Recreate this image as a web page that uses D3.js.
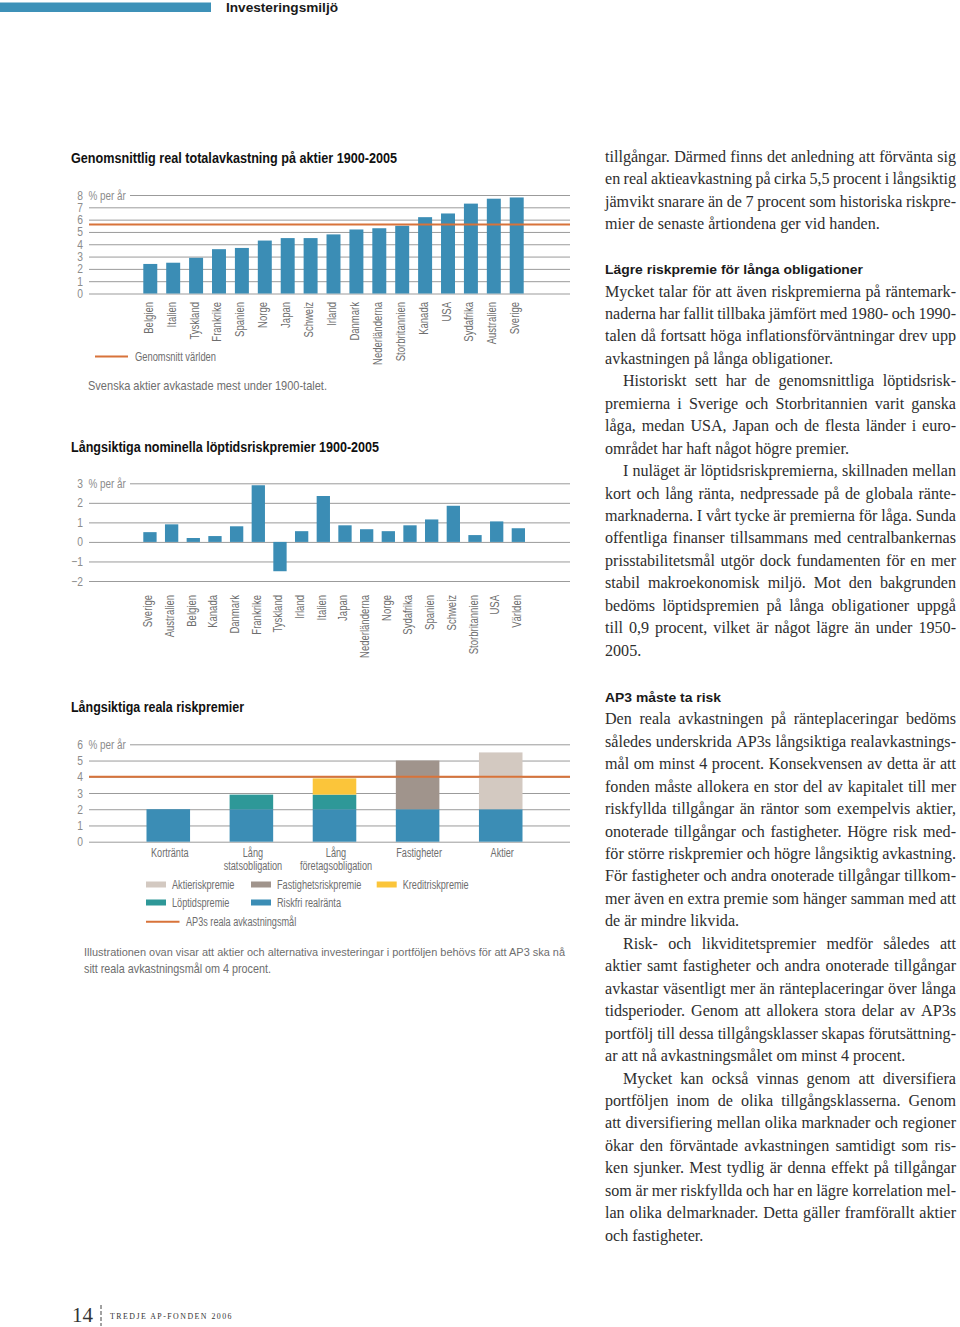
<!DOCTYPE html>
<html><head><meta charset="utf-8">
<script src="https://cdn.jsdelivr.net/npm/d3@7"></script>
<style>
body{margin:0;background:#fff;}
svg{display:block;}
</style></head><body>
<svg id="page" width="960" height="1327"></svg>
<script>
// ---------------- DATA ----------------
const countries1 = ["Belgien","Italien","Tyskland","Frankrike","Spanien","Norge","Japan","Schweiz","Irland","Danmark","Nederländerna","Storbritannien","Kanada","USA","Sydafrika","Australien","Sverige"];
const returns1 = [2.4,2.5,2.9,3.6,3.7,4.3,4.5,4.5,4.8,5.2,5.3,5.5,6.2,6.5,7.3,7.7,7.8];
const worldAverage1 = 5.6;
const ticks1 = [0,1,2,3,4,5,6,7,8];

const countries2 = ["Sverige","Australien","Belgien","Kanada","Danmark","Frankrike","Tyskland","Irland","Italien","Japan","Nederländerna","Norge","Sydafrika","Spanien","Schweiz","Storbritannien","USA","Världen"];
const premiums2 = [0.5,0.9,0.2,0.3,0.8,2.9,-1.5,0.55,2.35,0.85,0.65,0.55,0.85,1.15,1.85,0.35,1.05,0.7];
const ticks2 = [-2,-1,0,1,2,3];

const categories3 = ["Kortränta","Lång statsobligation","Lång företagsobligation","Fastigheter","Aktier"];
const categoryLabels3 = [["Kortränta"],["Lång","statsobligation"],["Lång","företagsobligation"],["Fastigheter"],["Aktier"]];
const riskfriRealranta = [2,2,2,2,2];
const loptidspremie = [0,0.9,0.9,0,0];
const kreditriskpremie = [0,0,1.0,0,0];
const fastighetsriskpremie = [0,0,0,3.0,0];
const aktieriskpremie = [0,0,0,0,3.5];
const seriesNames3 = ["Riskfri realränta","Löptidspremie","Kreditriskpremie","Fastighetsriskpremie","Aktieriskpremie"];
const legendRows3 = [["Aktieriskpremie","Fastighetsriskpremie","Kreditriskpremie"],["Löptidspremie","Riskfri realränta"]];
const target3 = 4;
const ticks3 = [0,1,2,3,4,5,6];

const textBlock1 = [
 ["tillgångar. Därmed finns det anledning att förvänta sig",1,0],
 ["en real aktieavkastning på cirka 5,5 procent i långsiktig",1,0],
 ["jämvikt snarare än de 7 procent som historiska riskpre-",1,0],
 ["mier de senaste årtiondena ger vid handen.",0,0]
];
const heading2 = "Lägre riskpremie för långa obligationer";
const textBlock2 = [
 ["Mycket talar för att även riskpremierna på räntemark-",1,0],
 ["naderna har fallit tillbaka jämfört med 1980- och 1990-",1,0],
 ["talen då fortsatt höga inflationsförväntningar drev upp",1,0],
 ["avkastningen på långa obligationer.",0,0],
 ["Historiskt sett har de genomsnittliga löptidsrisk-",1,1],
 ["premierna i Sverige och Storbritannien varit ganska",1,0],
 ["låga, medan USA, Japan och de flesta länder i euro-",1,0],
 ["området har haft något högre premier.",0,0],
 ["I nuläget är löptidsriskpremierna, skillnaden mellan",1,1],
 ["kort och lång ränta, nedpressade på de globala ränte-",1,0],
 ["marknaderna. I vårt tycke är premierna för låga. Sunda",1,0],
 ["offentliga finanser tillsammans med centralbankernas",1,0],
 ["prisstabilitetsmål utgör dock fundamenten för en mer",1,0],
 ["stabil makroekonomisk miljö. Mot den bakgrunden",1,0],
 ["bedöms löptidspremien på långa obligationer uppgå",1,0],
 ["till 0,9 procent, vilket är något lägre än under 1950-",1,0],
 ["2005.",0,0]
];
const heading3 = "AP3 måste ta risk";
const textBlock3 = [
 ["Den reala avkastningen på ränteplaceringar bedöms",1,0],
 ["således underskrida AP3s långsiktiga realavkastnings-",1,0],
 ["mål om minst 4 procent. Konsekvensen av detta är att",1,0],
 ["fonden måste allokera en stor del av kapitalet till mer",1,0],
 ["riskfyllda tillgångar än räntor som exempelvis aktier,",1,0],
 ["onoterade tillgångar och fastigheter. Högre risk med-",1,0],
 ["för större riskpremier och högre långsiktig avkastning.",1,0],
 ["För fastigheter och andra onoterade tillgångar tillkom-",1,0],
 ["mer även en extra premie som hänger samman med att",1,0],
 ["de är mindre likvida.",0,0],
 ["Risk- och likviditetspremier medför således att",1,1],
 ["aktier samt fastigheter och andra onoterade tillgångar",1,0],
 ["avkastar väsentligt mer än ränteplaceringar över långa",1,0],
 ["tidsperioder. Genom att allokera stora delar av AP3s",1,0],
 ["portfölj till dessa tillgångsklasser skapas förutsättning-",1,0],
 ["ar att nå avkastningsmålet om minst 4 procent.",0,0],
 ["Mycket kan också vinnas genom att diversifiera",1,1],
 ["portföljen inom de olika tillgångsklasserna. Genom",1,0],
 ["att diversifiering mellan olika marknader och regioner",1,0],
 ["ökar den förväntade avkastningen samtidigt som ris-",1,0],
 ["ken sjunker. Mest tydlig är denna effekt på tillgångar",1,0],
 ["som är mer riskfyllda och har en lägre korrelation mel-",1,0],
 ["lan olika delmarknader. Detta gäller framförallt aktier",1,0],
 ["och fastigheter.",0,0]
];

// ---------------- STYLE ----------------
const SANS_C = "'Liberation Sans Narrow','Arial Narrow','Liberation Sans',Arial,sans-serif";
const SANS = "'Liberation Sans',Arial,Helvetica,sans-serif";
const SERIF = "'Liberation Serif','Times New Roman',serif";
const BLUE = "#3b8db5", TEAL = "#2e9898", YELLOW = "#fbc53a", FGRAY = "#a0948c", LBEIGE = "#d3c9c1", ORANGE = "#d8733a";
const GRID = "#9b9b9b", LABEL = "#8c8c8c", TEXTG = "#6e6e6e";
const GX0 = 89, GX1 = 570;

const svg = d3.select("#page");

// calibration for condensed light text
const cal = svg.append("text").attr("font-family",SANS_C).attr("font-size",12).text("Fastigheter");
const K = 45.7 / cal.node().getComputedTextLength();
cal.remove();

function condense(sel, k){
  sel.each(function(){
    const L = this.getComputedTextLength();
    d3.select(this).attr("textLength", L*(k||K)).attr("lengthAdjust","spacingAndGlyphs");
  });
  return sel;
}
// fit to width; if natural width is much wider, reduce the font size so the natural box stays near the target
function fit(sel, w, maxRatio){
  const L = sel.node().getComputedTextLength();
  const r = maxRatio || 1.06;
  if(L > w*r){
    const fs = +sel.attr("font-size");
    sel.attr("font-size", fs * w * r / L);
  }
  return sel.attr("textLength", w).attr("lengthAdjust","spacingAndGlyphs");
}

// ---------------- HEADER ----------------
svg.append("rect").attr("x",0).attr("y",2.5).attr("width",211).attr("height",9.5).attr("fill","#3d91b8");
fit(svg.append("text").attr("x",226).attr("y",12).attr("font-family",SANS).attr("font-weight","bold")
  .attr("font-size",12.5).attr("fill","#1a1a1a").text("Investeringsmiljö"),112,1.3);

// ---------------- generic grid ----------------
function grid(g, y, ticks){
  const ax = d3.axisLeft(y).tickValues(ticks).tickSize(-(GX1-GX0)).tickPadding(6).tickFormat(d3.format("d"));
  const a = g.append("g").attr("transform",`translate(${GX0},0)`).call(ax);
  a.select(".domain").remove();
  a.selectAll(".tick line").attr("stroke",GRID).attr("stroke-width",1);
  a.selectAll(".tick text").attr("fill",LABEL).attr("font-family",SANS_C).attr("font-size",12.5);
  condense(a.selectAll(".tick text"), K*1.08);
  const top = d3.max(ticks);
  const tt = a.selectAll(".tick").filter(d=>d===top);
  tt.select("line").attr("x1", 130-GX0);
  condense(tt.append("text").attr("x",88.5-GX0).attr("dy","0.32em").attr("fill",LABEL)
    .attr("font-family",SANS_C).attr("font-size",12.5).attr("text-anchor","start").text("% per år"), K*1.04);
}
function title(x,y,str,w){
  fit(svg.append("text").attr("x",x).attr("y",y).attr("font-family",SANS_C).attr("font-weight","bold")
   .attr("font-size",14).attr("fill","#111").text(str), w, 1.3);
}

// ---------------- CHART 1 ----------------
title(71,162.5,"Genomsnittlig real totalavkastning på aktier 1900-2005",326);
{
  const g = svg.append("g");
  const x = d3.scaleBand().domain(countries1).range([143.3,523.7]).paddingInner(0.39).paddingOuter(0);
  const y = d3.scaleLinear().domain([0,8]).range([293.5,195]);
  grid(g,y,ticks1);
  g.selectAll("rect.bar").data(countries1).join("rect").attr("class","bar")
    .attr("x",d=>x(d)).attr("width",x.bandwidth())
    .attr("y",(d,i)=>y(returns1[i])).attr("height",(d,i)=>y(0)-y(returns1[i])).attr("fill",BLUE);
  g.append("line").attr("x1",GX0).attr("x2",GX1).attr("y1",y(worldAverage1)).attr("y2",y(worldAverage1))
    .attr("stroke",ORANGE).attr("stroke-width",2);
  condense(g.selectAll("text.xl").data(countries1).join("text").attr("class","xl")
    .attr("transform",d=>`translate(${x(d)+x.bandwidth()/2+2.5},${y(0)+8.5}) rotate(-90)`)
    .attr("text-anchor","end").attr("font-family",SANS_C).attr("font-size",12.5).attr("fill",TEXTG).text(d=>d));
  g.append("line").attr("x1",95).attr("x2",128).attr("y1",356.5).attr("y2",356.5).attr("stroke",ORANGE).attr("stroke-width",2);
  fit(g.append("text").attr("x",135).attr("y",360.5).attr("font-family",SANS_C).attr("font-size",12.5).attr("fill",TEXTG).text("Genomsnitt världen"),81,1.3);
  fit(g.append("text").attr("x",88).attr("y",389.5).attr("font-family",SANS_C).attr("font-size",13.5).attr("fill",TEXTG).text("Svenska aktier avkastade mest under 1900-talet."),239,1.3);
}

// ---------------- CHART 2 ----------------
title(71,451.5,"Långsiktiga nominella löptidsriskpremier 1900-2005",308);
{
  const g = svg.append("g");
  const x = d3.scaleBand().domain(countries2).range([143.3,525]).paddingInner(0.386).paddingOuter(0);
  const y = d3.scaleLinear().domain([-2,3]).range([581,483.3]);
  grid(g,y,ticks2);
  g.selectAll("rect.bar").data(countries2).join("rect").attr("class","bar")
    .attr("x",d=>x(d)).attr("width",x.bandwidth())
    .attr("y",(d,i)=>y(Math.max(0,premiums2[i]))).attr("height",(d,i)=>Math.abs(y(premiums2[i])-y(0))).attr("fill",BLUE);
  condense(g.selectAll("text.xl").data(countries2).join("text").attr("class","xl")
    .attr("transform",d=>`translate(${x(d)+x.bandwidth()/2+2.5},${y(-2)+14}) rotate(-90)`)
    .attr("text-anchor","end").attr("font-family",SANS_C).attr("font-size",12.5).attr("fill",TEXTG).text(d=>d));
}

// ---------------- CHART 3 ----------------
title(71,712,"Långsiktiga reala riskpremier",173);
{
  const g = svg.append("g");
  const x = d3.scaleBand().domain(categories3).range([146.5,522.5]).paddingInner(0.476).paddingOuter(0);
  const y = d3.scaleLinear().domain([0,6]).range([841.7,744.3]);
  grid(g,y,ticks3);
  const rows = categories3.map((c,i)=>({cat:c,
    "Riskfri realränta":riskfriRealranta[i],"Löptidspremie":loptidspremie[i],"Kreditriskpremie":kreditriskpremie[i],
    "Fastighetsriskpremie":fastighetsriskpremie[i],"Aktieriskpremie":aktieriskpremie[i]}));
  const color = d3.scaleOrdinal().domain(seriesNames3).range([BLUE,TEAL,YELLOW,FGRAY,LBEIGE]);
  const stack = d3.stack().keys(seriesNames3)(rows);
  g.selectAll("g.s").data(stack).join("g").attr("class","s").attr("fill",d=>color(d.key))
    .selectAll("rect").data(d=>d.filter(p=>p[1]-p[0]>0)).join("rect")
    .attr("x",d=>x(d.data.cat)).attr("width",x.bandwidth())
    .attr("y",d=>y(d[1])).attr("height",d=>y(d[0])-y(d[1]));
  g.append("line").attr("x1",GX0).attr("x2",GX1).attr("y1",y(target3)).attr("y2",y(target3))
    .attr("stroke",ORANGE).attr("stroke-width",2);
  categories3.forEach((c,i)=>{
    categoryLabels3[i].forEach((ln,j)=>{
      condense(g.append("text").attr("x",x(c)+x.bandwidth()/2+1.5).attr("y",857+j*12.5).attr("text-anchor","middle")
        .attr("font-family",SANS_C).attr("font-size",12).attr("fill",TEXTG).text(ln));
    });
  });
  const lx = [146,251,376.7], ly = [884.5,902.5];
  legendRows3.forEach((row,r)=>row.forEach((name,c)=>{
    g.append("rect").attr("x",lx[c]).attr("y",ly[r]-3).attr("width",20).attr("height",6).attr("fill",color(name));
    condense(g.append("text").attr("x",lx[c]+26).attr("y",ly[r]+4.2).attr("font-family",SANS_C).attr("font-size",12)
      .attr("fill",TEXTG).text(name));
  }));
  g.append("line").attr("x1",146).attr("x2",179.5).attr("y1",921.7).attr("y2",921.7).attr("stroke",ORANGE).attr("stroke-width",2);
  condense(g.append("text").attr("x",186).attr("y",925.9).attr("font-family",SANS_C).attr("font-size",12).attr("fill",TEXTG).text("AP3s reala avkastningsmål"));
  fit(g.append("text").attr("x",84).attr("y",956).attr("font-family",SANS_C).attr("font-size",13.5).attr("fill",TEXTG)
    .text("Illustrationen ovan visar att aktier och alternativa investeringar i portföljen behövs för att AP3 ska nå"),481,1.04);
  fit(g.append("text").attr("x",84).attr("y",973).attr("font-family",SANS_C).attr("font-size",13.5).attr("fill",TEXTG)
    .text("sitt reala avkastningsmål om 4 procent."),187,1.3);
}

// ---------------- RIGHT TEXT COLUMN ----------------
const TX = 605, TW = 351, IND = 18, LH = 22.45, FS = 16.1;
function para(lines, y0){
  lines.forEach((ln,i)=>{
    const [str, just, indent] = ln;
    const x0 = TX + (indent?IND:0), w = TW - (indent?IND:0), y = y0 + i*LH;
    if(!just){
      svg.append("text").attr("x",x0).attr("y",y).attr("font-family",SERIF).attr("font-size",FS).attr("fill","#2e2e2e").text(str);
      return;
    }
    const words = str.split(" ");
    const ts = words.map(wd=>svg.append("text").attr("y",y).attr("font-family",SERIF).attr("font-size",FS).attr("fill","#2e2e2e").text(wd));
    let ws = ts.map(s=>s.node().getComputedTextLength());
    const minGap = 2.5*(words.length-1);
    if(d3.sum(ws) + minGap > w){
      const f = FS*(w-minGap)/d3.sum(ws);
      ts.forEach(s=>s.attr("font-size",f));
      ws = ts.map(s=>s.node().getComputedTextLength());
    }
    const gap = (w - d3.sum(ws)) / (words.length-1);
    let cx = x0;
    ts.forEach((s,k)=>{ s.attr("x",cx); cx += ws[k]+gap; });
  });
}
function heading(str,y,w){
  fit(svg.append("text").attr("x",TX).attr("y",y).attr("font-family",SANS).attr("font-weight","bold")
    .attr("font-size",13.5).attr("fill","#1a1a1a").text(str), w, 1.3);
}
para(textBlock1, 161.7);
heading(heading2, 273.8, 258);
para(textBlock2, 296.5);
heading(heading3, 701.5, 116);
para(textBlock3, 724.3);

// ---------------- FOOTER ----------------
svg.append("text").attr("x",72).attr("y",1322).attr("font-family",SERIF).attr("font-size",21).attr("fill","#333").text("14");
svg.append("line").attr("x1",101).attr("x2",101).attr("y1",1305).attr("y2",1326).attr("stroke","#444").attr("stroke-width",1).attr("stroke-dasharray","4,2");
fit(svg.append("text").attr("x",110).attr("y",1319).attr("font-family",SERIF).attr("font-size",8).attr("fill","#333")
  .attr("letter-spacing",1.5).text("TREDJE AP-FONDEN 2006"),123,1.5);
</script>
</body></html>
